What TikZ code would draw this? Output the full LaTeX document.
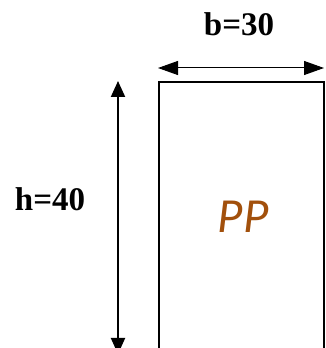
\documentclass[tikz,border=0pt]{standalone}
\usepackage{fontspec}
\setmainfont{Liberation Serif}
\newfontfamily\carlito{Carlito}
\usetikzlibrary{arrows.meta, positioning}
\definecolor{cbrown}{HTML}{A2500C}
\tikzset{
  every picture/.style={x=1pt, y=1pt, line width=2pt},
  dim/.style={{Triangle[length=#1, width=14pt]}-{Triangle[length=#1, width=14pt]}},
  dim/.default=16pt,
  dimtext/.style={font=\fontsize{33}{35}\selectfont\bfseries, inner sep=0pt},
}
\begin{document}
\begin{tikzpicture}[
  section/.style={draw, anchor=north west, minimum width=165pt, minimum height=300pt, inner sep=0pt, outer sep=0pt},
  mat/.style={text=cbrown, font=\carlito\itshape\fontsize{49}{51}\selectfont, inner sep=0pt}]
  \useasboundingbox (0,0) rectangle (326,348);
  % column section
  \node[section] (col) at (159,266) {};
  \node[mat] (pp) at (243,131) {PP};
  % width b
  \coordinate (bl) at (158,280);
  \coordinate (br) at (324,280);
  \draw[dim=20pt, line width=1pt] (bl) -- (br);
  \node[dimtext] (b) at (239,324) {b=30};
  % height h
  \coordinate (ht) at (118,267);
  \coordinate (hb) at (118,-6);
  \draw[dim] (ht) -- (hb);
  \node[dimtext] (h) at (50,149) {h=40};
\end{tikzpicture}
\end{document}
